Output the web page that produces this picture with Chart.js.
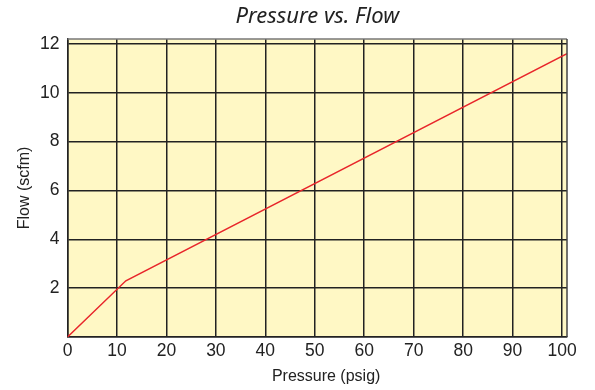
<!DOCTYPE html>
<html>
<head>
<meta charset="utf-8">
<script src="https://cdn.jsdelivr.net/npm/chart.js@4/dist/chart.umd.min.js"></script>
<style>
  html, body { margin: 0; padding: 0; background: #ffffff; }
  #wrap { width: 595px; height: 390px; }
</style>
</head>
<body>
<div id="wrap"><canvas id="chart" width="595" height="390"></canvas></div>
<script>
// Pressure (psig) vs. flow (scfm) curve: steep rise to the knee, then a gentler slope
const pressure = [0, 11.8, 101];
const flow = [0, 2.3, 11.6];

const xTicks = [0, 10, 20, 30, 40, 50, 60, 70, 80, 90, 100];
const yTicks = [0, 2, 4, 6, 8, 10, 12];

const chartTitle = 'Pressure vs. Flow';
const xTitle = 'Pressure (psig)';
const yTitle = 'Flow (scfm)';

const points = pressure.map((p, i) => ({ x: p, y: flow[i] }));

// Pale yellow plot field with a frame on the top and right sides
const plotFrame = {
  id: 'plotFrame',
  beforeDraw(chart) {
    const { ctx, chartArea: a } = chart;
    ctx.save();
    ctx.fillStyle = '#fff8c5';
    ctx.fillRect(a.left, a.top, a.right - a.left, a.bottom - a.top);
    ctx.restore();
  },
  afterDraw(chart) {
    const { ctx, chartArea: a } = chart;
    ctx.save();
    ctx.lineWidth = 1.5;
    ctx.strokeStyle = '#777777';
    ctx.beginPath();
    ctx.moveTo(a.left, a.top);
    ctx.lineTo(a.right, a.top);
    ctx.stroke();
    ctx.strokeStyle = '#444444';
    ctx.beginPath();
    ctx.moveTo(a.right, a.top);
    ctx.lineTo(a.right, a.bottom);
    ctx.stroke();
    ctx.restore();
  }
};

const tickFont = { family: '"Liberation Sans", Arial, sans-serif', size: 17.5 };
const titleFont = { family: '"Liberation Sans", Arial, sans-serif', size: 16 };

new Chart(document.getElementById('chart'), {
  type: 'scatter',
  data: {
    datasets: [{
      data: points,
      showLine: true,
      borderColor: '#e8262b',
      borderWidth: 1.5,
      pointRadius: 0,
      fill: false,
      tension: 0
    }]
  },
  options: {
    responsive: false,
    animation: false,
    layout: { padding: { top: 0, right: 28, bottom: 0, left: 0 } },
    plugins: {
      legend: { display: false },
      tooltip: { enabled: false },
      title: {
        display: true,
        text: chartTitle,
        fullSize: false,
        color: '#222222',
        font: { family: '"Noto Sans", "Open Sans", sans-serif', size: 22, style: 'italic', weight: 'normal', lineHeight: 1.2 },
        padding: { top: 4, bottom: 8.6 }
      }
    },
    scales: {
      x: {
        type: 'linear',
        min: 0,
        max: 101,
        afterBuildTicks(scale) {
          scale.ticks = xTicks.map(v => ({ value: v }));
        },
        afterFit(scale) { scale.height = 53; },
        ticks: {
          color: '#222222',
          font: tickFont,
          padding: 4,
          maxRotation: 0,
          autoSkip: false
        },
        grid: { color: '#222222', lineWidth: 1.5, drawTicks: false },
        border: { color: '#222222', width: 1.5 },
        title: {
          display: true,
          text: '    ' + xTitle,
          color: '#222222',
          font: titleFont,
          padding: { top: 0, bottom: 4 }
        }
      },
      y: {
        type: 'linear',
        min: 0,
        max: 12.2,
        afterBuildTicks(scale) {
          scale.ticks = yTicks.map(v => ({ value: v }));
        },
        afterFit(scale) { scale.width = 67.5; },
        ticks: {
          color: '#222222',
          font: tickFont,
          padding: 8,
          autoSkip: false,
          callback: v => (v === 0 ? '' : String(v))
        },
        grid: { color: '#222222', lineWidth: 1.5, drawTicks: false },
        border: { color: '#222222', width: 1.5 },
        title: {
          display: true,
          text: yTitle,
          color: '#222222',
          font: titleFont,
          padding: { top: 15, bottom: 0 }
        }
      }
    }
  },
  plugins: [plotFrame]
});
</script>
</body>
</html>
